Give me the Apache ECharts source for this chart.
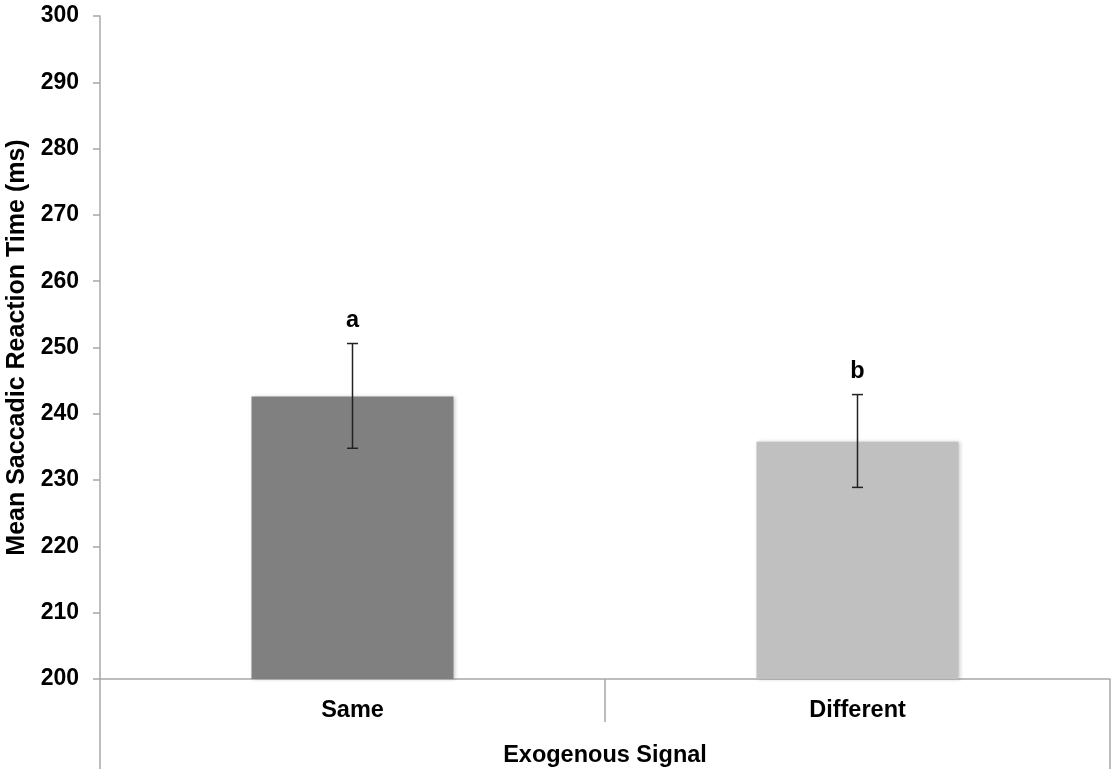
<!DOCTYPE html>
<html>
<head>
<meta charset="utf-8">
<script src="https://cdn.jsdelivr.net/npm/echarts@6/dist/echarts.min.js"></script>
<style>
  html, body { margin: 0; padding: 0; background: #ffffff; }
  #chart { width: 1111px; height: 769px; }
</style>
</head>
<body>
<div id="chart"></div>
<script>
// Exogenous signal conditions
const categories = ['Same', 'Different'];
// Mean saccadic reaction time (ms)
const meanRT = [242.6, 235.8];
// Error bar ends (ms)
const errLow = [234.8, 228.9];
const errHigh = [250.6, 242.9];
// Significance letters above each bar
const sigLetters = ['a', 'b'];
// Bar fills
const barColors = ['#808080', '#c0c0c0'];
// Y axis range
const yMin = 200, yMax = 300, yStep = 10;

const FONT = '"Liberation Sans", Arial, Helvetica, sans-serif';
const AXIS_GRAY = '#a8a8a8';

const chart = echarts.init(document.getElementById('chart'), null, { renderer: 'canvas' });

chart.setOption({
  animation: false,
  backgroundColor: '#ffffff',
  grid: { left: 100, right: 1, top: 16, bottom: 90, containLabel: false, outerBoundsMode: 'none' },
  xAxis: [
    {
      type: 'category',
      position: 'bottom',
      data: categories,
      boundaryGap: true,
      axisLine: { show: true, lineStyle: { color: AXIS_GRAY, width: 1.5 } },
      axisTick: { show: true, length: 43, lineStyle: { color: AXIS_GRAY, width: 1.5 } },
      axisLabel: { margin: 20, color: '#000', fontFamily: FONT, fontWeight: 'bold', fontSize: 23.5 },
      splitLine: { show: false }
    },
    {
      // group level: one category spanning both conditions
      type: 'category',
      position: 'bottom',
      data: ['Exogenous Signal'],
      boundaryGap: true,
      axisLine: { show: false },
      axisTick: { show: true, length: 90, lineStyle: { color: AXIS_GRAY, width: 1.5 } },
      axisLabel: { margin: 65, color: '#000', fontFamily: FONT, fontWeight: 'bold', fontSize: 23.5 },
      splitLine: { show: false }
    }
  ],
  yAxis: {
    type: 'value',
    min: yMin,
    max: yMax,
    interval: yStep,
    name: 'Mean Saccadic Reaction Time (ms)',
    nameLocation: 'middle',
    nameRotate: 90,
    nameGap: 59,
    nameTextStyle: { color: '#000', fontFamily: FONT, fontWeight: 'bold', fontSize: 25 },
    axisLine: { show: true, lineStyle: { color: AXIS_GRAY, width: 1.5 } },
    axisTick: { show: true, inside: false, length: 7, lineStyle: { color: AXIS_GRAY, width: 1.5 } },
    axisLabel: { margin: 21, color: '#000', fontFamily: FONT, fontWeight: 'bold', fontSize: 23 },
    splitLine: { show: false }
  },
  series: [
    {
      type: 'bar',
      xAxisIndex: 0,
      barWidth: '40%',
      data: meanRT.map((v, i) => ({
        value: v,
        itemStyle: {
          color: barColors[i],
          shadowColor: 'rgba(0,0,0,0.22)',
          shadowBlur: 4,
          shadowOffsetX: 1,
          shadowOffsetY: 0
        }
      })),
      z: 2
    },
    {
      // error bars with significance letters
      type: 'custom',
      xAxisIndex: 0,
      data: categories.map((c, i) => [i, errLow[i], errHigh[i], sigLetters[i]]),
      renderItem: function (params, api) {
        const x = api.value(0);
        const lo = api.coord([x, api.value(1)]);
        const hi = api.coord([x, api.value(2)]);
        const capHalf = 5.5;
        const stroke = { stroke: '#222222', lineWidth: 1.5 };
        return {
          type: 'group',
          children: [
            { type: 'line', shape: { x1: hi[0], y1: hi[1], x2: lo[0], y2: lo[1] }, style: stroke },
            { type: 'line', shape: { x1: hi[0] - capHalf, y1: hi[1], x2: hi[0] + capHalf, y2: hi[1] }, style: stroke },
            { type: 'line', shape: { x1: lo[0] - capHalf, y1: lo[1], x2: lo[0] + capHalf, y2: lo[1] }, style: stroke },
            {
              type: 'text',
              style: {
                x: hi[0],
                y: hi[1] - 23,
                text: sigLetters[params.dataIndex],
                fill: '#000',
                font: 'bold 23.5px ' + FONT,
                align: 'center',
                verticalAlign: 'middle'
              }
            }
          ]
        };
      },
      z: 3
    }
  ]
});
</script>
</body>
</html>
